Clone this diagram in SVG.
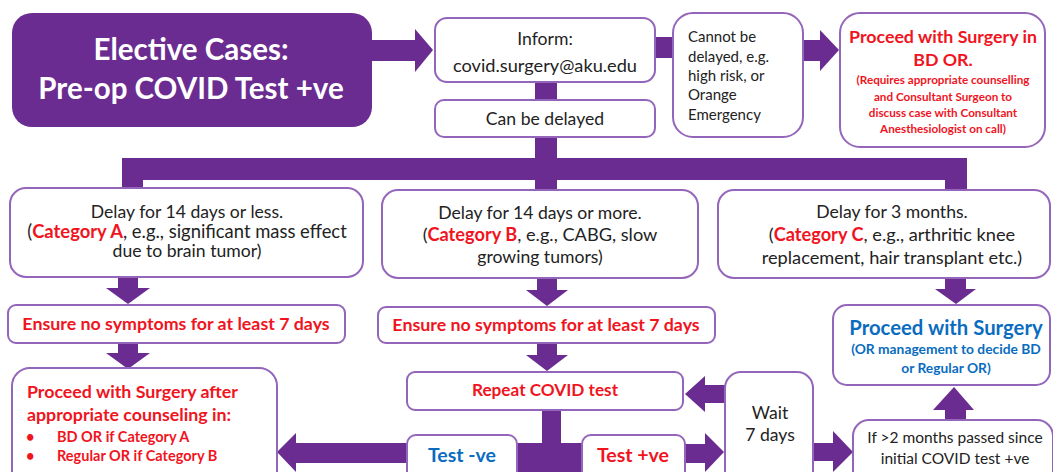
<svg xmlns="http://www.w3.org/2000/svg" width="1053" height="472" viewBox="0 0 1053 472">
<style>
.box{fill:#fff;stroke:#9466BB;stroke-width:2}
.bar{fill:#6B2C91}
text{font-family:Lato,"Open Sans","Liberation Sans",sans-serif}
.t{font-size:17.6px;fill:#222;text-anchor:middle}
.tl{font-size:15px;fill:#222}
.red{fill:#F0141E;font-weight:bold}
.blue{fill:#0A6CC0;font-weight:bold}
.title{font-size:29.5px;fill:#fff;font-weight:bold;text-anchor:middle}
.c{text-anchor:middle}
</style>
<rect width="1053" height="472" fill="#fff"/>
<g id="connectors">
<rect class="bar" x="370" y="40" width="46" height="21"/>
<polygon class="bar" points="415,29 433,50 415,72"/>
<rect class="bar" x="535" y="81" width="22" height="20"/>
<rect class="bar" x="535" y="136" width="22" height="24"/>
<rect class="bar" x="654" y="37" width="21" height="21"/>
<rect class="bar" x="802" y="40" width="20" height="21"/>
<polygon class="bar" points="820,30 839,50 820,71"/>
<rect class="bar" x="122" y="158" width="845" height="22"/>
<rect class="bar" x="122" y="158" width="21" height="31"/>
<rect class="bar" x="535" y="158" width="22" height="33"/>
<rect class="bar" x="945" y="158" width="22" height="33"/>
<rect class="bar" x="118" y="277" width="20" height="12"/>
<polygon class="bar" points="106,288 150,288 128,304"/>
<rect class="bar" x="118" y="342" width="20" height="12"/>
<polygon class="bar" points="106,353 150,353 128,369"/>
<rect class="bar" x="537" y="277" width="20" height="14"/>
<polygon class="bar" points="526,290 568,290 547,306"/>
<rect class="bar" x="537" y="342" width="20" height="14"/>
<polygon class="bar" points="526,355 568,355 547,371"/>
<rect class="bar" x="945" y="277" width="21" height="13"/>
<polygon class="bar" points="935,289 976,289 956,304"/>
<rect class="bar" x="542" y="409" width="19" height="36"/>
<rect class="bar" x="515" y="443" width="69" height="29"/>
<rect class="bar" x="294" y="443" width="114" height="20"/>
<polygon class="bar" points="296,433 296,472 277,452"/>
<rect class="bar" x="684" y="444" width="22" height="19"/>
<polygon class="bar" points="705,433 724,452 705,472"/>
<rect class="bar" x="703" y="385" width="23" height="18"/>
<polygon class="bar" points="705,376 685,394 705,412"/>
<rect class="bar" x="812" y="443" width="22" height="18"/>
<polygon class="bar" points="833,431 853,452 833,472"/>
<rect class="bar" x="945" y="408" width="21" height="13"/>
<polygon class="bar" points="933,410 974,410 954,387"/>
</g>
<g id="title">
<rect x="12" y="13" width="360" height="114" rx="20" fill="#6B2C91"/>
<text class="title" x="191" y="60">Elective Cases:</text>
<text class="title" x="191" y="99">Pre-op COVID Test +ve</text>
</g>
<g id="inform">
<rect class="box" x="435" y="18" width="220" height="64" rx="12"/>
<text class="t" x="545" y="45">Inform:</text>
<text class="t" x="545" y="72" style="font-size:18.2px">covid.surgery@aku.edu</text>
</g>
<g id="can-delay">
<rect class="box" x="435" y="100" width="220" height="37" rx="9"/>
<text class="t" x="545" y="125">Can be delayed</text>
</g>
<g id="cannot-delay">
<rect class="box" x="673" y="13" width="130" height="124" rx="20"/>
<text class="tl" x="688" y="42">Cannot be</text>
<text class="tl" x="688" y="62">delayed, e.g.</text>
<text class="tl" x="688" y="81">high risk, or</text>
<text class="tl" x="688" y="100">Orange</text>
<text class="tl" x="688" y="120">Emergency</text>
</g>
<g id="bd-or">
<rect class="box" x="840" y="13" width="205" height="134" rx="20"/>
<text class="red c" x="943" y="43" font-size="17.8">Proceed with Surgery in</text>
<text class="red c" x="943" y="66" font-size="17.8">BD OR.</text>
<text class="red c" x="943" y="84" font-size="11.7">(Requires appropriate counselling</text>
<text class="red c" x="943" y="101" font-size="11.7">and Consultant Surgeon to</text>
<text class="red c" x="943" y="117" font-size="11.7">discuss case with Consultant</text>
<text class="red c" x="943" y="133" font-size="11.7">Anesthesiologist on call)</text>
</g>
<g id="cat-a">
<rect class="box" x="10" y="188" width="353" height="89" rx="16"/>
<text class="t" x="187" y="218">Delay for 14 days or less.</text>
<text class="t" x="187" y="238" style="font-size:18.4px">(<tspan class="red">Category A</tspan>, e.g., significant mass effect</text>
<text class="t" x="187" y="257">due to brain tumor)</text>
</g>
<g id="cat-b">
<rect class="box" x="382" y="190" width="316" height="88" rx="16"/>
<text class="t" x="540" y="219">Delay for 14 days or more.</text>
<text class="t" x="540" y="241" style="font-size:18.2px">(<tspan class="red">Category B</tspan>, e.g., CABG, slow</text>
<text class="t" x="540" y="263">growing tumors)</text>
</g>
<g id="cat-c">
<rect class="box" x="718" y="190" width="332" height="88" rx="16"/>
<text class="t" x="892" y="218">Delay for 3 months.</text>
<text class="t" x="892" y="241" style="font-size:18.2px">(<tspan class="red">Category C</tspan>, e.g., arthritic knee</text>
<text class="t" x="892" y="264" style="font-size:18.2px">replacement, hair transplant etc.)</text>
</g>
<g id="ensure-a">
<rect class="box" x="8" y="305" width="337" height="38" rx="8"/>
<text class="red c" x="176" y="330" font-size="17.8">Ensure no symptoms for at least 7 days</text>
</g>
<g id="ensure-b">
<rect class="box" x="378" y="307" width="337" height="36" rx="8"/>
<text class="red c" x="546" y="331" font-size="17.8">Ensure no symptoms for at least 7 days</text>
</g>
<g id="proceed-c">
<rect class="box" x="833" y="305" width="217" height="80" rx="14"/>
<text class="blue c" x="946" y="335" font-size="20.3">Proceed with Surgery</text>
<text class="blue c" x="946" y="354" font-size="13.8">(OR management to decide BD</text>
<text class="blue c" x="946" y="373" font-size="13.8">or Regular OR)</text>
</g>
<g id="proceed-ab">
<rect class="box" x="12" y="368" width="265" height="120" rx="18"/>
<text class="red" x="27" y="398" font-size="17.8">Proceed with Surgery after</text>
<text class="red" x="27" y="421" font-size="17.8">appropriate counseling in:</text>
<text class="red" x="26" y="442" font-size="14.5">•</text>
<text class="red" x="57" y="442" font-size="14.5">BD OR if Category A</text>
<text class="red" x="26" y="461" font-size="14.5">•</text>
<text class="red" x="57" y="461" font-size="14.5">Regular OR if Category B</text>
</g>
<g id="repeat">
<rect class="box" x="407" y="372" width="276" height="38" rx="8"/>
<text class="red c" x="545" y="396" font-size="17.2">Repeat COVID test</text>
</g>
<g id="test-neg">
<rect class="box" x="407" y="435" width="110" height="50" rx="9"/>
<text class="blue c" x="462" y="462" font-size="19.5">Test -ve</text>
</g>
<g id="test-pos">
<rect class="box" x="582" y="435" width="103" height="50" rx="9"/>
<text class="red c" x="633" y="462" font-size="19.5">Test +ve</text>
</g>
<g id="wait">
<rect class="box" x="725" y="372" width="88" height="120" rx="16"/>
<text class="t" x="770" y="419">Wait</text>
<text class="t" x="770" y="441">7 days</text>
</g>
<g id="two-months">
<rect class="box" x="853" y="420" width="200" height="70" rx="16"/>
<text class="t" x="955" y="443" style="font-size:15.5px">If &gt;2 months passed since</text>
<text class="t" x="955" y="464" style="font-size:15.5px">initial COVID test +ve</text>
</g>
</svg>
